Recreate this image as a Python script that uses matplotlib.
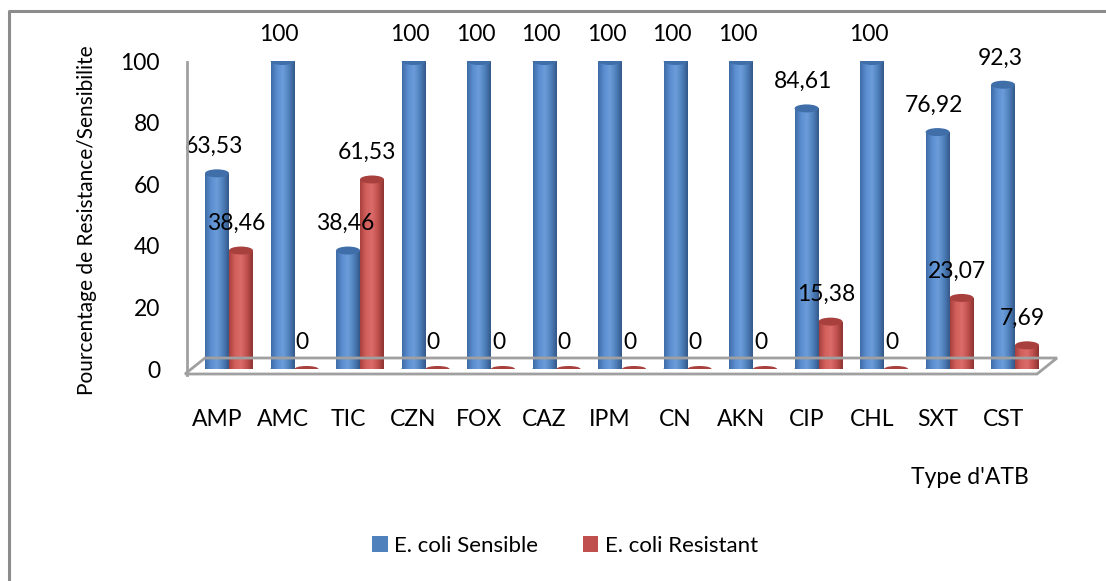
import numpy as np
import matplotlib.pyplot as plt
from matplotlib.patches import Ellipse, Polygon, Patch
from matplotlib.colors import LinearSegmentedColormap
from matplotlib.lines import Line2D

plt.rcParams['font.family'] = ['Lato', 'DejaVu Sans']
fs = 16.5

# data
categories = ["AMP", "AMC", "TIC", "CZN", "FOX", "CAZ", "IPM", "CN", "AKN", "CIP", "CHL", "SXT", "CST"]
sensible = [63.53, 100, 38.46, 100, 100, 100, 100, 100, 100, 84.61, 100, 76.92, 92.3]
resistant = [38.46, 0, 61.53, 0, 0, 0, 0, 0, 0, 15.38, 0, 23.07, 7.69]
sensible_txt = ["63,53", "100", "38,46", "100", "100", "100", "100", "100", "100", "84,61", "100", "76,92", "92,3"]
resistant_txt = ["38,46", "0", "61,53", "0", "0", "0", "0", "0", "0", "15,38", "0", "23,07", "7,69"]

blue = "#4F81BD"
red = "#C0504D"
blue_cmap = LinearSegmentedColormap.from_list("b", ["#3E6CA6", "#5B8ED0", "#6C9DDA", "#4F81BD", "#34598A"])
red_cmap = LinearSegmentedColormap.from_list("r", ["#A8403D", "#D2605D", "#DB6C69", "#C0504D", "#8E3431"])

fig = plt.figure(figsize=(11.06, 5.81), dpi=100)
W, H = 1106, 581

# axes placement (pixels)
px_left, px_right = 185, 1057
px_zero, px_top = 369, 61
ax = fig.add_axes([px_left / W, 1 - px_zero / H, (px_right - px_left) / W, (px_zero - px_top) / H])

x = np.arange(len(categories))
bw = 0.366
off = 0.183
xlim = (-0.672, 12.64)
ypx = (px_zero - px_top) / 100.0  # pixels per unit
eh = 8 / ypx  # ellipse height in data units

# outer border (left and top visible)
fig.add_artist(Line2D([9 / W, 9 / W, 1.0], [0.0, 1 - 11 / H, 1 - 11 / H],
                      transform=fig.transFigure, color="#8c8c8c", lw=2.2))

# floor and vertical axis
floor = [(185, 374), (1037, 374), (1057, 358), (205, 358)]
floor_fig = [(px / W, 1 - py / H) for px, py in floor]
fig.add_artist(Polygon(floor_fig, closed=True, fill=False, edgecolor="#a0a0a0",
                       lw=2, transform=fig.transFigure))
fig.add_artist(Line2D([187 / W, 187 / W], [1 - 375 / H, 1 - 62 / H],
                      transform=fig.transFigure, color="#a0a0a0", lw=2))


def cylinder(xc, val, cmap, top_color, bot_color):
    x0 = xc - bw / 2
    if val > 0:
        ax.add_patch(Ellipse((xc, 0), bw, eh, facecolor=bot_color, edgecolor="none", zorder=2))
        bars = ax.bar(xc, val, width=bw, color=bot_color, zorder=3, linewidth=0)
        grad = np.linspace(0, 1, 64).reshape(1, -1)
        im = ax.imshow(grad, extent=[x0, x0 + bw, 0, val], aspect="auto", cmap=cmap,
                       zorder=3.5, interpolation="bilinear")
        im.set_clip_path(bars[0])
        ax.add_patch(Ellipse((xc, val), bw, eh, facecolor=top_color, edgecolor="none", zorder=4))
    else:
        ax.add_patch(Ellipse((xc, 0), bw, eh * 0.75, facecolor=top_color, edgecolor="none", zorder=4))


for i in range(len(categories)):
    cylinder(x[i] - off, sensible[i], blue_cmap, "#3F6EA9", "#4A79B3")
    cylinder(x[i] + off, resistant[i], red_cmap, "#A8403D", "#B34845")

for i in range(len(categories)):
    ax.text(x[i] - off - 0.05, sensible[i] + 8.7, sensible_txt[i], ha="center", va="center",
            fontsize=fs, color="black", clip_on=False, zorder=6)
    ax.text(x[i] + off - 0.07, resistant[i] + 8.7, resistant_txt[i], ha="center", va="center",
            fontsize=fs, color="black", clip_on=False, zorder=6)

ax.set_xlim(*xlim)
ax.set_ylim(0, 100)
for s in ax.spines.values():
    s.set_visible(False)
ax.set_yticks([0, 20, 40, 60, 80, 100])
ax.set_yticklabels(["0", "20", "40", "60", "80", "100"], fontsize=fs)
ax.set_xticks(x - off)
ax.set_xticklabels(categories, fontsize=fs)
ax.tick_params(axis="y", length=0, pad=18)
ax.tick_params(axis="x", length=0, pad=29)

fig.text(87 / W, 1 - 220 / H, "Pourcentage de Resistance/Sensibilite", rotation=90,
         ha="center", va="center", fontsize=15)
fig.text(970 / W, 1 - 478 / H, "Type d'ATB", ha="center", va="center", fontsize=fs)

handles = [Patch(facecolor=blue, label="E. coli Sensible"),
           Patch(facecolor=red, label="E. coli Resistant")]
fig.legend(handles=handles, loc="center", bbox_to_anchor=(565 / W, 1 - 546 / H), ncol=2,
           frameon=False, fontsize=16, handlelength=0.7, handleheight=0.7,
           handletextpad=0.3, columnspacing=2.0)

fig.savefig("out.png", dpi=100)
